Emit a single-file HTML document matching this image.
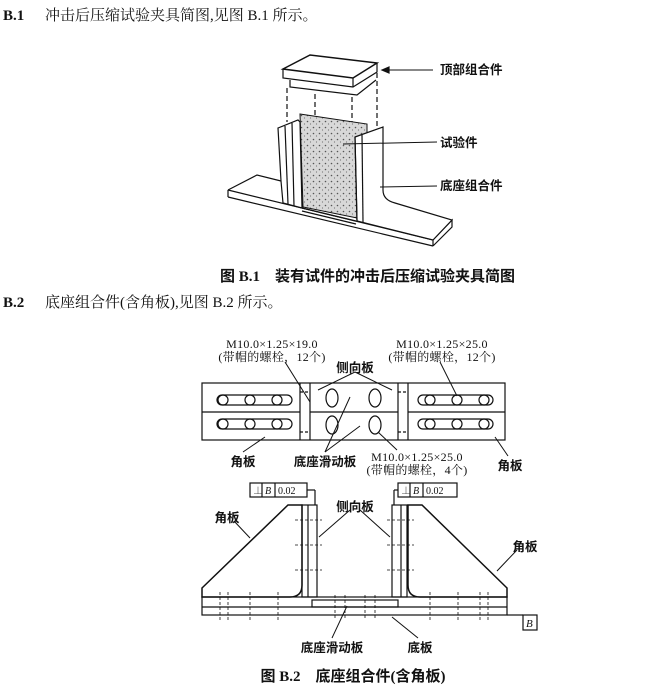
<!DOCTYPE html>
<html><head><meta charset="utf-8"><style>
body{margin:0;background:#fff;width:648px;height:692px;overflow:hidden}
svg{display:block}
text{font-family:"Liberation Serif","Noto Serif CJK SC","Noto Sans CJK SC",serif;fill:#111}
.b{font-family:"Liberation Serif","Noto Sans CJK SC",sans-serif;font-weight:bold}
.l{font-family:"Liberation Sans","Noto Sans CJK SC",sans-serif;font-size:12.5px;font-weight:bold}
.m{font-size:12px;letter-spacing:0.3px}
</style></head><body>
<svg width="648" height="692" viewBox="0 0 648 692" stroke="#111" fill="none" stroke-width="1.2">
<defs><pattern id="sp" width="6" height="6" patternUnits="userSpaceOnUse"><rect width="6" height="6" fill="#d8d8d8" stroke="none"/><circle cx="1.5" cy="1.5" r="0.8" fill="#555" stroke="none"/><circle cx="4.5" cy="4" r="0.6" fill="#777" stroke="none"/></pattern></defs>
<g stroke="none">
<text x="3" y="20" font-size="15" class="b">B.1</text>
<text x="45" y="20" font-size="15">冲击后压缩试验夹具简图,见图 B.1 所示。</text>
<text x="220" y="281" font-size="15" class="b">图 B.1　装有试件的冲击后压缩试验夹具简图</text>
<text x="3" y="307" font-size="15" class="b">B.2</text>
<text x="45" y="307" font-size="15">底座组合件(含角板),见图 B.2 所示。</text>
<text x="353" y="681" font-size="15" class="b" text-anchor="middle">图 B.2　底座组合件(含角板)</text>
</g>
<!-- Fig B.1 -->
<polygon points="283,69 310,55 377,63 353,78" stroke-width="1.5"/>
<polyline points="283,69 283,78 353,87 377,72 377,63"/>
<line x1="353" y1="78" x2="353" y2="87"/>
<polyline points="290,80 290,87 357,95 376,80"/>
<g stroke-dasharray="5,3"><line x1="287" y1="88" x2="287" y2="122"/><line x1="315" y1="94" x2="315" y2="115"/><line x1="352" y1="97" x2="352" y2="125"/><line x1="377" y1="73" x2="377" y2="126"/></g>
<polyline points="228,190 257,175 281,181"/>
<line x1="228" y1="190" x2="433" y2="240"/>
<line x1="228" y1="197" x2="433" y2="246"/>
<line x1="228" y1="190" x2="228" y2="197"/>
<line x1="433" y1="240" x2="433" y2="246"/>
<polyline points="433,240 452,220 452,227 433,246"/>
<polygon points="300,114 367,124 367,220 303,207" fill="url(#sp)" stroke-width="1"/>
<polygon points="278,128 298,120 300,122 302,208 283,203 281,181" fill="#fff"/>
<line x1="285" y1="126" x2="288" y2="204"/>
<line x1="292" y1="123" x2="294" y2="206"/>
<line x1="302" y1="208" x2="356" y2="221"/>
<line x1="302" y1="211" x2="356" y2="224"/>
<path d="M355,137 L383,127 L383,190 Q383,200 395,203 L452,220 L433,240 L357,221 Z" fill="#fff"/>
<line x1="362" y1="135" x2="363" y2="222"/>
<line x1="355" y1="137" x2="357" y2="221"/>
<g stroke-width="1"><line x1="382" y1="70" x2="433" y2="70"/><line x1="343" y1="144" x2="437" y2="142"/><line x1="380" y1="187" x2="437" y2="186"/></g>
<polygon points="382,70 389,67 389,73" fill="#111"/>
<g stroke="none"><text x="440" y="74" class="l">顶部组合件</text><text x="440" y="147" class="l">试验件</text><text x="440" y="190" class="l">底座组合件</text></g>
<!-- Fig B.2 top view -->
<rect x="202" y="383" width="303" height="57"/>
<line x1="202" y1="412" x2="300" y2="412"/><line x1="408" y1="412" x2="505" y2="412"/>
<line x1="310" y1="412" x2="398" y2="412"/>
<line x1="300" y1="383" x2="300" y2="440"/><line x1="310" y1="383" x2="310" y2="440"/><line x1="398" y1="383" x2="398" y2="440"/><line x1="408" y1="383" x2="408" y2="440"/>
<g stroke-dasharray="3,2"><line x1="300" y1="392" x2="310" y2="392"/><line x1="300" y1="432" x2="310" y2="432"/><line x1="398" y1="392" x2="408" y2="392"/><line x1="398" y1="432" x2="408" y2="432"/></g>
<g>
<rect x="217" y="395" width="75" height="10" rx="5"/><rect x="217" y="419" width="75" height="10" rx="5"/>
<rect x="418" y="395" width="75" height="10" rx="5"/><rect x="418" y="419" width="75" height="10" rx="5"/>
<circle cx="223" cy="400" r="5"/><circle cx="250" cy="400" r="5"/><circle cx="277" cy="400" r="5"/>
<circle cx="223" cy="424" r="5"/><circle cx="250" cy="424" r="5"/><circle cx="277" cy="424" r="5"/>
<circle cx="430" cy="400" r="5"/><circle cx="457" cy="400" r="5"/><circle cx="484" cy="400" r="5"/>
<circle cx="430" cy="424" r="5"/><circle cx="457" cy="424" r="5"/><circle cx="484" cy="424" r="5"/>
<ellipse cx="332" cy="398" rx="6" ry="9"/><ellipse cx="375" cy="398" rx="6" ry="9"/>
<ellipse cx="332" cy="425" rx="6" ry="9"/><ellipse cx="375" cy="425" rx="6" ry="9"/>
</g>
<g stroke-width="1"><line x1="285" y1="362" x2="310" y2="402"/><line x1="440" y1="362" x2="457" y2="396"/>
<line x1="355" y1="372" x2="318" y2="390"/><line x1="355" y1="372" x2="392" y2="390"/>
<line x1="325" y1="452" x2="350" y2="397"/><line x1="325" y1="452" x2="360" y2="426"/>
<line x1="243" y1="452" x2="265" y2="437"/><line x1="508" y1="456" x2="495" y2="437"/><line x1="397" y1="450" x2="378" y2="432"/></g>
<g stroke="none">
<text x="272" y="348" class="m" text-anchor="middle">M10.0×1.25×19.0</text>
<text x="272" y="361" class="m" text-anchor="middle">(带帽的螺栓，12个)</text>
<text x="442" y="348" class="m" text-anchor="middle">M10.0×1.25×25.0</text>
<text x="442" y="361" class="m" text-anchor="middle">(带帽的螺栓，12个)</text>
<text x="355" y="372" class="l" text-anchor="middle">侧向板</text>
<text x="243" y="466" class="l" text-anchor="middle">角板</text>
<text x="325" y="466" class="l" text-anchor="middle">底座滑动板</text>
<text x="417" y="461" class="m" text-anchor="middle">M10.0×1.25×25.0</text>
<text x="417" y="474" class="m" text-anchor="middle">(带帽的螺栓，4个)</text>
<text x="510" y="470" class="l" text-anchor="middle">角板</text>
</g>
<!-- Fig B.2 front view -->
<rect x="250" y="483" width="57" height="14"/><line x1="262" y1="483" x2="262" y2="497"/><line x1="275" y1="483" x2="275" y2="497"/>
<rect x="398" y="483" width="59" height="14"/><line x1="410" y1="483" x2="410" y2="497"/><line x1="423" y1="483" x2="423" y2="497"/>
<g stroke="none"><text x="253" y="494" font-size="10">⊥</text><text x="265" y="494" font-size="10" font-style="italic">B</text><text x="278" y="494" font-size="10">0.02</text>
<text x="401" y="494" font-size="10">⊥</text><text x="413" y="494" font-size="10" font-style="italic">B</text><text x="426" y="494" font-size="10">0.02</text></g>
<line x1="307" y1="490" x2="315" y2="490"/><line x1="315" y1="490" x2="315" y2="505"/><line x1="398" y1="490" x2="394" y2="490"/><line x1="394" y1="490" x2="394" y2="505"/>
<path d="M202,588 L288,505 L302,505 L302,585 Q302,597 290,597 L202,597 Z" stroke-width="1.5"/>
<path d="M507,588 L422,505 L408,505 L408,585 Q408,597 420,597 L507,597 Z" stroke-width="1.5"/>
<rect x="302" y="505" width="15" height="92"/><rect x="392" y="505" width="15" height="92"/>
<line x1="308" y1="505" x2="308" y2="597"/><line x1="401" y1="505" x2="401" y2="597"/>
<rect x="202" y="597" width="305" height="18"/><line x1="202" y1="607" x2="507" y2="607"/>
<rect x="312" y="600" width="86" height="7"/>
<g stroke-width="0.8" stroke-dasharray="3,2">
<line x1="295" y1="520" x2="322" y2="520"/><line x1="295" y1="545" x2="322" y2="545"/><line x1="295" y1="570" x2="322" y2="570"/>
<line x1="387" y1="520" x2="414" y2="520"/><line x1="387" y1="545" x2="414" y2="545"/><line x1="387" y1="570" x2="414" y2="570"/>
<line x1="220" y1="592" x2="220" y2="620"/><line x1="228" y1="592" x2="228" y2="620"/><line x1="250" y1="592" x2="250" y2="620"/><line x1="278" y1="592" x2="278" y2="620"/>
<line x1="335" y1="595" x2="335" y2="620"/><line x1="345" y1="595" x2="345" y2="620"/><line x1="365" y1="595" x2="365" y2="620"/><line x1="375" y1="595" x2="375" y2="620"/>
<line x1="430" y1="592" x2="430" y2="620"/><line x1="458" y1="592" x2="458" y2="620"/><line x1="480" y1="592" x2="480" y2="620"/><line x1="488" y1="592" x2="488" y2="620"/>
</g>
<line x1="507" y1="615" x2="523" y2="615"/><rect x="523" y="615" width="14" height="15"/>
<g stroke="none"><text x="526" y="627" font-size="11" font-style="italic">B</text></g>
<g stroke-width="1"><line x1="234" y1="521" x2="250" y2="538"/><line x1="350" y1="510" x2="319" y2="537"/><line x1="360" y1="510" x2="390" y2="537"/>
<line x1="517" y1="550" x2="497" y2="571"/><line x1="332" y1="638" x2="347" y2="606"/><line x1="418" y1="638" x2="392" y2="617"/></g>
<g stroke="none">
<text x="227" y="522" class="l" text-anchor="middle">角板</text>
<text x="355" y="511" class="l" text-anchor="middle">侧向板</text>
<text x="525" y="551" class="l" text-anchor="middle">角板</text>
<text x="332" y="652" class="l" text-anchor="middle">底座滑动板</text>
<text x="420" y="652" class="l" text-anchor="middle">底板</text>
</g>
</svg>
</body></html>
